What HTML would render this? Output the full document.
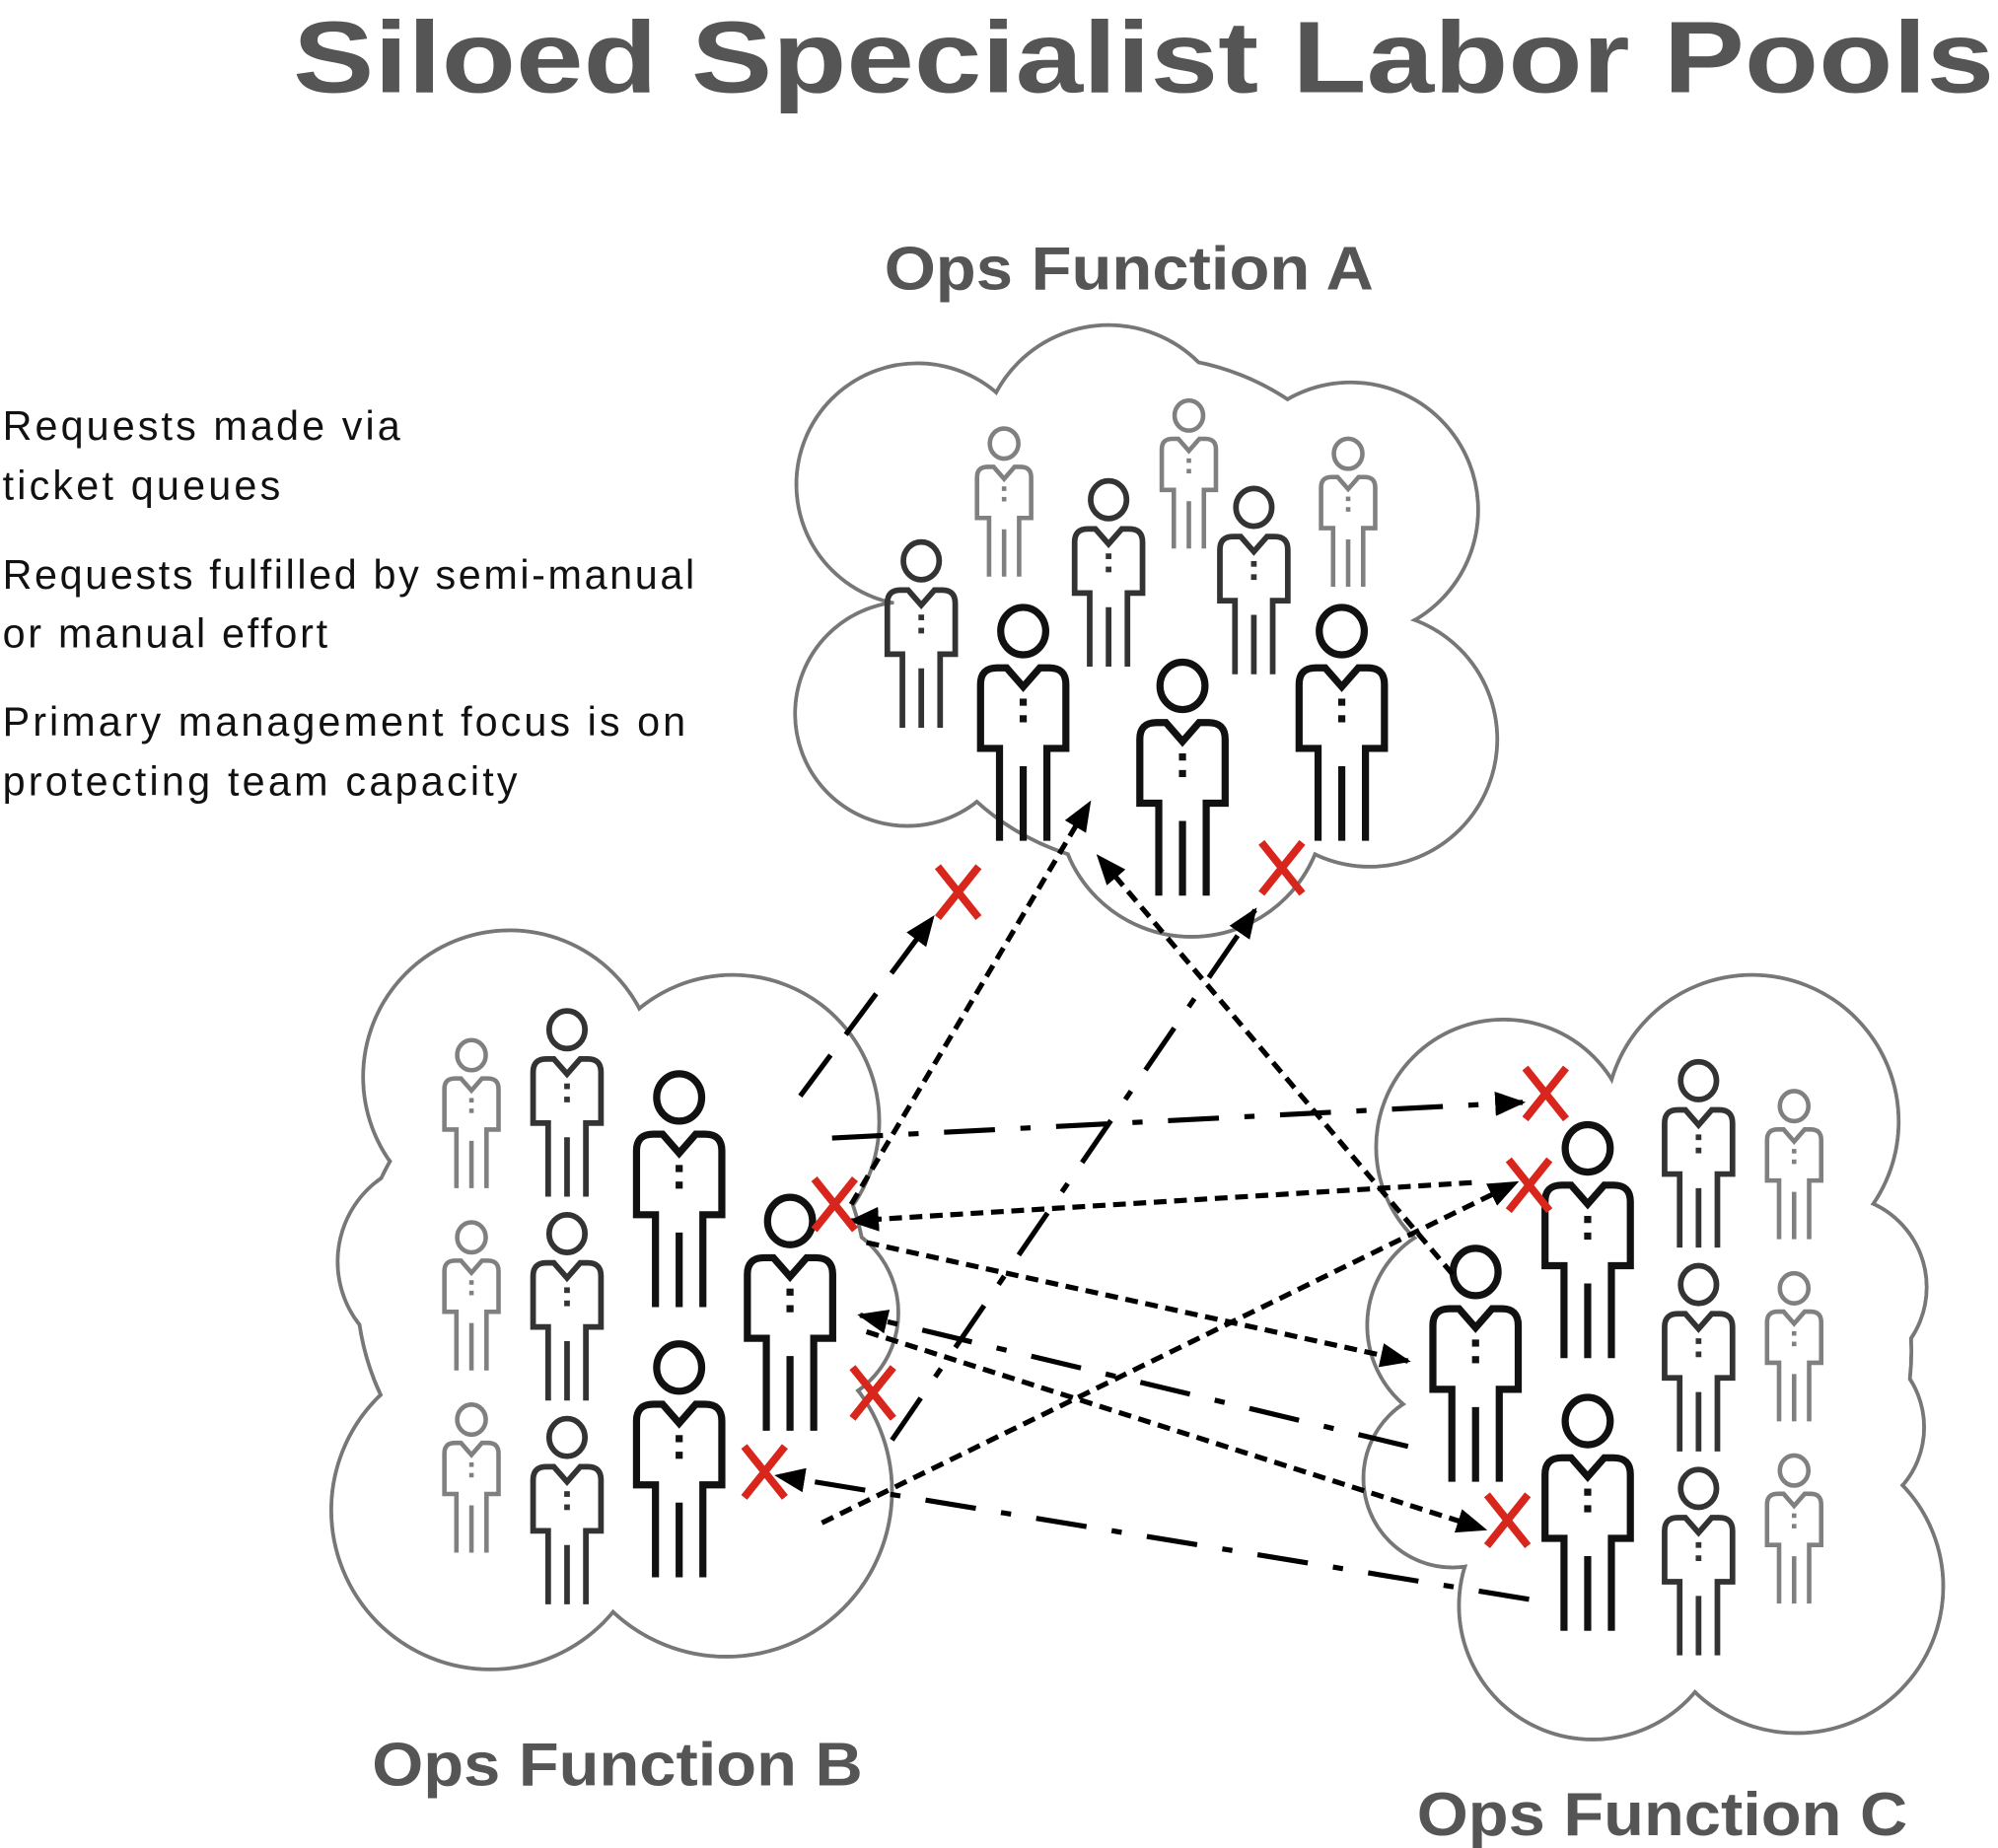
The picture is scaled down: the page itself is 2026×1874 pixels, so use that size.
<!DOCTYPE html>
<html><head><meta charset="utf-8"><style>
html,body{margin:0;padding:0;background:#fff;}
svg{display:block;}
</style></head><body>
<svg width="2026" height="1874" viewBox="0 0 1568 1450" xmlns="http://www.w3.org/2000/svg">
<defs>
<g id="p" fill="none" stroke-linejoin="miter">
<ellipse cx="0" cy="27" rx="19" ry="20" stroke-width="6"/>
<path d="M-20,204 V126 H-36 V72 Q-36,58 -22,58 H-14 L0,74 L14,58 H22 Q36,58 36,72 V126 H20 V204" stroke-width="6"/>
<line x1="0" y1="141" x2="0" y2="204" stroke-width="6"/>
<rect x="-3" y="84" width="6" height="6" stroke="none" fill="currentColor"/>
<rect x="-3" y="98" width="6" height="6" stroke="none" fill="currentColor"/>
</g>
<g id="x"><path d="M-16,-20 L16,20 M16,-20 L-16,20" stroke="#d9261c" stroke-width="6" fill="none"/></g>
<marker id="ah" viewBox="0 0 10 10" refX="9" refY="5" markerWidth="6" markerHeight="6" markerUnits="strokeWidth" orient="auto"><path d="M0,1 L10,5 L0,9 z" fill="#000"/></marker>
</defs>

<text x="230" y="72" textLength="1335" lengthAdjust="spacingAndGlyphs" font-family="Liberation Sans, sans-serif" font-weight="bold" font-size="80" fill="#555">Siloed Specialist Labor Pools</text>
<g font-family="Liberation Sans, sans-serif" font-weight="bold" font-size="48" fill="#555">
<text x="694" y="227" textLength="384" lengthAdjust="spacingAndGlyphs">Ops Function A</text>
<text x="292" y="1401" textLength="385" lengthAdjust="spacingAndGlyphs">Ops Function B</text>
<text x="1112" y="1440" textLength="385" lengthAdjust="spacingAndGlyphs">Ops Function C</text>
</g>
<g font-family="Liberation Sans, sans-serif" font-size="32" fill="#111" lengthAdjust="spacingAndGlyphs">
<text x="2" y="345" textLength="312">Requests made via</text>
<text x="2" y="392" textLength="218">ticket queues</text>
<text x="2" y="462" textLength="543">Requests fulfilled by semi-manual</text>
<text x="2" y="508" textLength="255">or manual effort</text>
<text x="2" y="577" textLength="536">Primary management focus is on</text>
<text x="2" y="624" textLength="404">protecting team capacity</text>
</g>

<!-- clouds -->
<g stroke="#777" stroke-width="3" fill="#fff">
<circle cx="720" cy="380" r="95"/><circle cx="870" cy="355" r="100"/><circle cx="1060" cy="400" r="100"/><circle cx="1075" cy="580" r="100"/><circle cx="935" cy="630" r="105"/><circle cx="712" cy="560" r="88"/><circle cx="900" cy="480" r="200"/>
<circle cx="400" cy="845" r="115"/><circle cx="575" cy="880" r="115"/><circle cx="345" cy="990" r="80"/><circle cx="385" cy="1185" r="125"/><circle cx="570" cy="1170" r="130"/><circle cx="630" cy="1030" r="75"/><circle cx="480" cy="1010" r="200"/>
<circle cx="1180" cy="900" r="100"/><circle cx="1375" cy="880" r="115"/><circle cx="1440" cy="1010" r="72"/><circle cx="1440" cy="1120" r="70"/><circle cx="1410" cy="1245" r="115"/><circle cx="1250" cy="1260" r="105"/><circle cx="1140" cy="1160" r="70"/><circle cx="1155" cy="1040" r="82"/><circle cx="1300" cy="1060" r="200"/>
</g>
<g fill="#fff">
<circle cx="720" cy="380" r="93.5"/><circle cx="870" cy="355" r="98.5"/><circle cx="1060" cy="400" r="98.5"/><circle cx="1075" cy="580" r="98.5"/><circle cx="935" cy="630" r="103.5"/><circle cx="712" cy="560" r="86.5"/><circle cx="900" cy="480" r="198.5"/>
<circle cx="400" cy="845" r="113.5"/><circle cx="575" cy="880" r="113.5"/><circle cx="345" cy="990" r="78.5"/><circle cx="385" cy="1185" r="123.5"/><circle cx="570" cy="1170" r="128.5"/><circle cx="630" cy="1030" r="73.5"/><circle cx="480" cy="1010" r="198.5"/>
<circle cx="1180" cy="900" r="98.5"/><circle cx="1375" cy="880" r="113.5"/><circle cx="1440" cy="1010" r="70.5"/><circle cx="1440" cy="1120" r="68.5"/><circle cx="1410" cy="1245" r="113.5"/><circle cx="1250" cy="1260" r="103.5"/><circle cx="1140" cy="1160" r="68.5"/><circle cx="1155" cy="1040" r="80.5"/><circle cx="1300" cy="1060" r="198.5"/>
</g>

<!-- people -->
<g stroke="#808080" color="#808080">
<use href="#p" transform="translate(788,332) scale(.59)"/><use href="#p" transform="translate(933,310) scale(.59)"/><use href="#p" transform="translate(1058,340) scale(.59)"/>
<use href="#p" transform="translate(370,812) scale(.59)"/><use href="#p" transform="translate(370,955) scale(.59)"/><use href="#p" transform="translate(370,1098) scale(.59)"/>
<use href="#p" transform="translate(1408,852) scale(.59)"/><use href="#p" transform="translate(1408,995) scale(.59)"/><use href="#p" transform="translate(1408,1138) scale(.59)"/>
</g>
<g stroke="#333" color="#333">
<use href="#p" transform="translate(723,420) scale(.74)"/><use href="#p" transform="translate(870,372) scale(.74)"/><use href="#p" transform="translate(984,378) scale(.74)"/>
<use href="#p" transform="translate(445,788) scale(.74)"/><use href="#p" transform="translate(445,948) scale(.74)"/><use href="#p" transform="translate(445,1108) scale(.74)"/>
<use href="#p" transform="translate(1333,828) scale(.74)"/><use href="#p" transform="translate(1333,988) scale(.74)"/><use href="#p" transform="translate(1333,1148) scale(.74)"/>
</g>
<g stroke="#111" color="#111">
<use href="#p" transform="translate(803,470) scale(.93)"/><use href="#p" transform="translate(928,513) scale(.93)"/><use href="#p" transform="translate(1053,470) scale(.93)"/>
<use href="#p" transform="translate(533,836) scale(.93)"/><use href="#p" transform="translate(620,933) scale(.93)"/><use href="#p" transform="translate(533,1048) scale(.93)"/>
<use href="#p" transform="translate(1246,876) scale(.93)"/><use href="#p" transform="translate(1158,973) scale(.93)"/><use href="#p" transform="translate(1246,1090) scale(.93)"/>
</g>

<!-- arrows -->
<g stroke="#000" stroke-width="4" fill="none" marker-end="url(#ah)">
<line x1="628" y1="860" x2="732" y2="720" stroke-dasharray="40 20"/>
<line x1="668" y1="945" x2="855" y2="630" stroke-dasharray="10 6"/>
<line x1="1140" y1="1000" x2="862" y2="672" stroke-dasharray="10 6"/>
<line x1="700" y1="1130" x2="985" y2="714" stroke-dasharray="40 20 8 20"/>
<line x1="653" y1="893" x2="1195" y2="865" stroke-dasharray="40 20 8 20"/>
<line x1="1155" y1="928" x2="668" y2="958" stroke-dasharray="10 6"/>
<line x1="680" y1="975" x2="1105" y2="1068" stroke-dasharray="10 6"/>
<line x1="1105" y1="1135" x2="675" y2="1032" stroke-dasharray="40 20 8 20"/>
<line x1="645" y1="1195" x2="1190" y2="928" stroke-dasharray="10 6"/>
<line x1="680" y1="1045" x2="1165" y2="1200" stroke-dasharray="10 6"/>
<line x1="1200" y1="1255" x2="610" y2="1158" stroke-dasharray="40 20 8 20"/>
</g>

<g>
<use href="#x" transform="translate(752,700)"/><use href="#x" transform="translate(1006,681)"/>
<use href="#x" transform="translate(1213,858)"/><use href="#x" transform="translate(655,945)"/>
<use href="#x" transform="translate(685,1093)"/><use href="#x" transform="translate(1200,930)"/>
<use href="#x" transform="translate(1183,1193)"/><use href="#x" transform="translate(600,1155)"/>
</g>
</svg>
</body></html>
